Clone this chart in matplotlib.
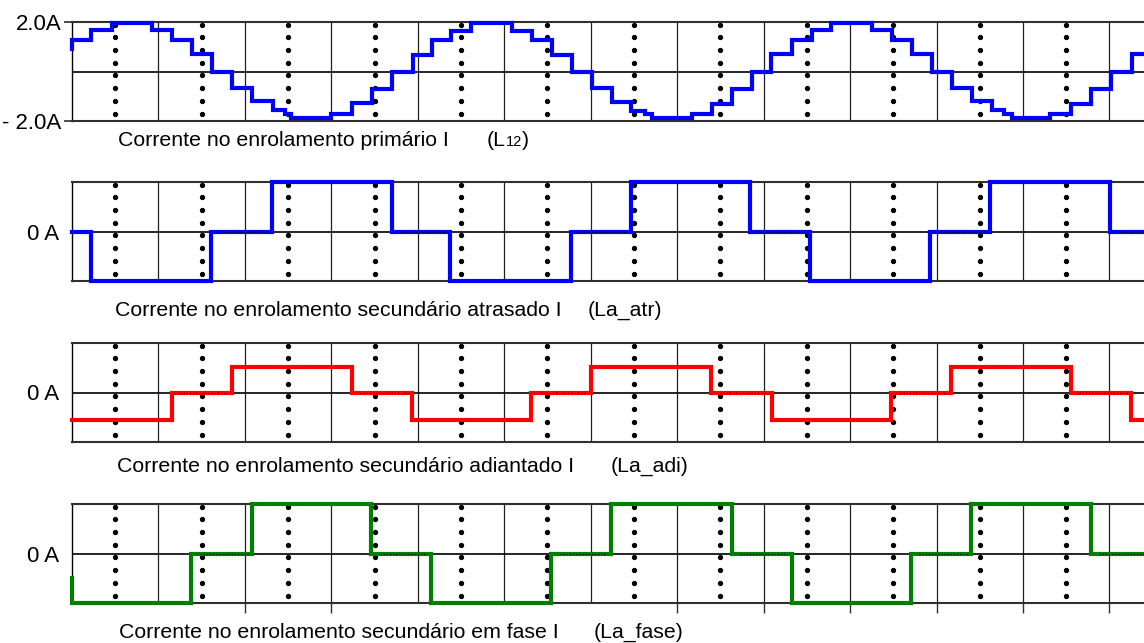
import matplotlib
matplotlib.use('Agg')
import matplotlib.pyplot as plt
import numpy as np

W, H = 1144, 643
FONT = ['Liberation Sans Narrow', 'Liberation Sans', 'DejaVu Sans']

# time of each level change (ms) and the level that starts there
t_prim = [0, 0.02, 0.88, 1.85, 3.70, 4.63, 5.55, 6.48, 7.40, 8.33, 9.30, 9.86, 10.13,
          11.99, 12.96, 13.88, 14.81, 15.77, 16.64, 17.54, 18.45, 20.35, 21.27, 22.20,
          23.12, 24.05, 24.97, 25.85, 26.52, 26.83, 28.68, 29.60, 30.53, 31.45, 32.35,
          33.30, 34.23, 35.12, 37.01, 37.93, 38.86, 39.81, 40.74, 41.63, 42.56, 43.13,
          43.48, 45.26, 46.23, 47.14, 48.07, 49.04]
i_prim = [0.9, 1.26, 1.66, 1.97, 1.66, 1.26, 0.69, 0.0, -0.68, -1.19, -1.57, -1.73, -1.89,
          -1.73, -1.27, -0.70, 0.0, 0.67, 1.26, 1.64, 1.97, 1.64, 1.26, 0.67,
          0.0, -0.65, -1.23, -1.60, -1.70, -1.87, -1.73, -1.30, -0.70, 0.0, 0.69,
          1.26, 1.66, 1.95, 1.66, 1.26, 0.69, 0.0, -0.68, -1.19, -1.57, -1.70,
          -1.87, -1.70, -1.30, -0.72, 0.0, 0.69]

t_atr = [0, 0.87, 6.43, 9.24, 14.79, 17.49, 23.09, 25.87, 31.37, 34.15, 39.70, 42.48, 48.03]
i_atr = [0, -1, 0, 1, 0, -1, 0, 1, 0, -1, 0, 1, 0]

t_adi = [0, 4.61, 7.39, 12.94, 15.75, 21.25, 24.03, 29.58, 32.38, 37.89, 40.66, 46.21, 49.02]
i_adi = [-0.55, 0, 0.51, 0, -0.55, 0, 0.51, 0, -0.55, 0, 0.51, 0, -0.55]

t_fase = [0, 0.02, 5.51, 8.33, 13.84, 16.61, 22.17, 24.94, 30.53, 33.30, 38.81, 41.60, 47.14]
i_fase = [-0.5, -1, 0, 1, 0, -1, 0, 1, 0, -1, 0, 1, 0]

T_END = 50.0

fig = plt.figure(figsize=(W / 100, H / 100), dpi=100)
fig.patch.set_facecolor('white')


def make_axes(top, bottom, ylim):
    left = 72
    width = T_END * 86.45 / 4  # px per 4 ms division
    ax = fig.add_axes([left / W, 1 - bottom / H, width / W, (bottom - top) / H])
    ax.set_xlim(0, T_END)
    ax.set_ylim(*ylim)
    for s in ['top', 'bottom']:
        ax.spines[s].set_color('#303030')
        ax.spines[s].set_linewidth(1.5)
    ax.spines['left'].set_color('black')
    ax.spines['left'].set_linewidth(1.0)
    ax.spines['right'].set_visible(False)
    # solid divisions every 4 ms, dotted ones in between
    for x in np.arange(4, T_END, 4):
        ax.axvline(x, color='#202020', lw=0.9, zorder=1)
    dots_y = 0.075 + 0.1285 * np.arange(8)
    for x in np.arange(2, T_END, 4):
        ax.plot(np.full(8, x), dots_y, ls='none', marker='o', ms=2.8, color='black',
                transform=ax.get_xaxis_transform(), zorder=1, clip_on=False)
    ax.axhline(0, color='black', lw=1.2, zorder=1)
    ax.set_xticks([])
    return ax


def draw_wave(ax, t, i, color):
    tt = list(t) + [T_END]
    ii = list(i) + [i[-1]]
    ax.step(tt, ii, where='post', color=color, lw=3.0, zorder=3, clip_on=False,
            solid_joinstyle='miter')
    # ripple on the zero-current intervals
    for k in range(len(i)):
        if i[k] == 0 and tt[k + 1] - tt[k] > 1.0:
            ax.plot([tt[k] + 0.4, tt[k + 1] - 0.2], [-0.02 * ax.get_ylim()[1]] * 2,
                    color='black', lw=0.8, ls=(0, (1.2, 1.6)), zorder=4)


ax1 = make_axes(22, 121, (-2, 2))
draw_wave(ax1, t_prim, i_prim, '#0000ff')
ax1.set_yticks([-2, 2], ['- 2.0A', '2.0A'])
ax1.tick_params(axis='y', length=6, width=1.2, pad=1.5, labelsize=16, color='#303030')

ax2 = make_axes(182, 281, (-1, 1))
draw_wave(ax2, t_atr, i_atr, '#0000ff')

ax3 = make_axes(343, 442, (-1, 1))
draw_wave(ax3, t_adi, i_adi, '#ff0000')

ax4 = make_axes(504, 603, (-1, 1))
draw_wave(ax4, t_fase, i_fase, '#008000')
ax4.set_xticks([8, 12, 28, 32, 36, 40, 44, 48])
ax4.tick_params(axis='x', length=7.5, width=1.0, color='#303030', labelbottom=False)

for ax in (ax2, ax3, ax4):
    ax.set_yticks([0], ['0 A'])
    ax.tick_params(axis='y', length=0, pad=9, labelsize=16)

for ax in (ax1, ax2, ax3, ax4):
    for lab in ax.get_yticklabels():
        lab.set_family(FONT)

renderer = fig.canvas.get_renderer()


def put(x, y, s, size=15.3):
    txt = fig.text(x / W, 1 - y / H, s, family=FONT, fontsize=size, va='baseline', ha='left')
    return txt.get_window_extent(renderer).x1


# panel captions
put(118, 146, 'Corrente no enrolamento primário I')
x = put(487, 146, '(L')
x = put(x, 146, '12', size=10.5)
put(x, 146, ')')

put(115, 316, 'Corrente no enrolamento secundário atrasado I')
put(588, 316, '(La_atr)')

put(117, 472, 'Corrente no enrolamento secundário adiantado I')
put(611, 472, '(La_adi)')

put(119, 638, 'Corrente no enrolamento secundário em fase I')
put(594, 638, '(La_fase)')

fig.savefig('out.png', dpi=100)
